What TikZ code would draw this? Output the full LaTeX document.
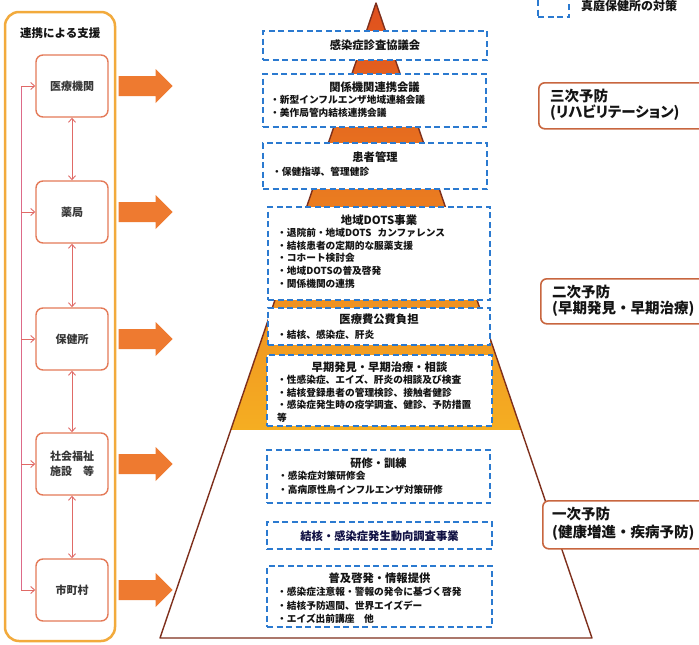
\documentclass[tikz,border=0pt]{standalone}
\usepackage{fontspec}
\setmainfont{Noto Sans CJK JP}
\newfontfamily\proportionaljp{Noto Sans CJK JP}[RawFeature=+palt]
\usetikzlibrary{arrows.meta,calc}
\definecolor{bluedash}{HTML}{2B7AD0}
\definecolor{pyrline}{HTML}{7E2F1C}
\definecolor{pyrtop}{HTML}{E0501E}
\definecolor{pyrmid}{HTML}{EC8424}
\definecolor{pyrbot}{HTML}{F5AE22}
\definecolor{arrorange}{HTML}{EE7A30}
\definecolor{framecol}{HTML}{F2AA3C}
\definecolor{mboxcol}{HTML}{E47A58}
\definecolor{linkcol}{HTML}{E06A66}
\definecolor{buscol}{HTML}{DD6A88}
\definecolor{lvlcol}{HTML}{C8663F}
\definecolor{txt}{HTML}{141414}
\begin{document}
\begin{tikzpicture}[x=1pt,y=-1pt,
  bbox/.style={draw=bluedash,line width=1.5pt,dash pattern=on 6pt off 3.5pt,fill=white,inner sep=0pt},
  ttl/.style={font=\fontsize{11.3}{13}\selectfont\bfseries,text=txt,inner sep=0pt},
  blt/.style={font=\fontsize{9.7}{12}\selectfont\bfseries,text=txt,inner sep=0pt,anchor=west},
  mbox/.style={draw=mboxcol,line width=1.4pt,rounded corners=7pt,fill=white,minimum width=72pt,minimum height=62pt,inner sep=0pt,align=center,font=\fontsize{11}{15}\selectfont\bfseries,text=txt!85},
  link/.style={draw=linkcol,line width=0.9pt,{Straight Barb[length=4pt,width=7pt]}-{Straight Barb[length=4pt,width=7pt]}},
  busline/.style={draw=buscol,line width=0.9pt},
  busarr/.style={draw=linkcol,line width=0.9pt,-{Straight Barb[length=4pt,width=7pt]}},
  bigarr/.style={fill=arrorange},
  panel/.style={draw=framecol,line width=2.5pt,rounded corners=14pt,inner sep=0pt,minimum width=110pt,minimum height=629pt},
  lvl/.style={draw=lvlcol,line width=1.6pt,rounded corners=6pt,fill=white,inner sep=0pt,anchor=north west},
  lvltxt/.style={font=\fontsize{14.5}{17}\selectfont\bfseries,text=txt,inner sep=0pt,anchor=west},
]
\clip (0,0) rectangle (699,645);
\fill[white] (0,0) rectangle (699,645);

% ---------- left panel ----------
\node[panel] (panel) at (60,326.5) {};
\node[font=\fontsize{11.5}{13}\selectfont\bfseries,text=txt,inner sep=0pt,anchor=west] (ptitle) at (20,33) {連携による支援};
\node[mbox] (m1) at (72,86) {医療機関};
\node[mbox] (m2) at (72,212) {薬局};
\node[mbox] (m3) at (72,339) {保健所};
\node[mbox] (m4) at (72,464) {社会福祉\\施設　等};
\node[mbox] (m5) at (72,590) {市町村};
\draw[link] (m1.south) -- (m2.north);
\draw[link] (m2.south) -- (m3.north);
\draw[link] (m3.south) -- (m4.north);
\draw[link] (m4.south) -- (m5.north);
\coordinate (bus) at (21,0);
\draw[busline] (bus|-m1.west) -- (bus|-m5.west);
\foreach \m in {m1,m2,m3,m4,m5}{
  \draw[busarr] (bus|-\m.west) -- (\m.west);
  \fill[bigarr] ($(\m.east)+(10,-10)$) -- ++(37,0) -- ++(0,-7) -- ++(17,17) -- ++(-17,17) -- ++(0,-7) -- ++(-37,0) -- cycle;
}

% ---------- pyramid ----------
\coordinate (apex) at (376,3);
\coordinate (bl) at (160,638);
\coordinate (br) at (592,638);
\shade[top color=pyrtop, middle color=pyrmid, bottom color=pyrbot]
  (apex) -- ($(apex)!0.6724!(bl)$) -- ($(apex)!0.6724!(br)$) -- cycle;
\draw[draw=pyrline,line width=1.4pt,line join=round] (apex) -- (bl) -- (br) -- cycle;

% ---------- measures (dashed blue boxes) ----------
\node[bbox,minimum width=224pt,minimum height=29pt] (b1) at (375,45.5) {};
\node[ttl] (t1) at (375,45.5) {感染症診査協議会};

\node[bbox,minimum width=223pt,minimum height=53pt] (b2) at (374.5,100.5) {};
\node[ttl] (t2) at (374.5,87) {関係機関連携会議};
\node[blt] (t2a) at (270,100) {・新型インフルエンザ地域連絡会議};
\node[blt] (t2b) at (270,113) {・美作局管内結核連携会議};

\node[bbox,minimum width=224pt,minimum height=46pt] (b3) at (375,166) {};
\node[ttl] (t3) at (375,157) {患者管理};
\node[blt] (t3a) at (272,172) {・保健指導、管理健診};

\node[bbox,minimum width=222pt,minimum height=93pt] (b4) at (379,253.5) {};
\node[ttl] (t4) at (379,220) {地域DOTS事業};
\node[blt] (t4a) at (277,233) {・退院前・地域DOTS\hspace{6pt}カンファレンス};
\node[blt] (t4b) at (277,245.5) {・結核患者の定期的な服薬支援};
\node[blt] (t4c) at (277,258) {・コホート検討会};
\node[blt] (t4d) at (277,271) {・地域DOTSの普及啓発};
\node[blt] (t4e) at (277,284) {・関係機関の連携};

\node[bbox,minimum width=222pt,minimum height=37pt] (b5) at (379,326.5) {};
\node[ttl] (t5) at (379,319) {医療費公費負担};
\node[blt] (t5a) at (277,335) {・結核、感染症、肝炎};

\node[bbox,minimum width=225pt,minimum height=71pt] (b6) at (379.5,390.5) {};
\node[ttl] (t6) at (379.5,367) {早期発見・早期治療・相談};
\node[blt] (t6a) at (277,380) {・性感染症、エイズ、肝炎の相談及び検査};
\node[blt] (t6b) at (277,392.5) {・結核登録患者の管理検診、接触者健診};
\node[blt] (t6c) at (277,405) {・感染症発生時の疫学調査、健診、予防措置};
\node[blt] (t6d) at (277,417.5) {等};

\node[bbox,minimum width=223pt,minimum height=53pt] (b7) at (378.5,476.5) {};
\node[ttl] (t7) at (378.5,463) {研修・訓練};
\node[blt] (t7a) at (278,476) {・感染症対策研修会};
\node[blt] (t7b) at (278,490) {・高病原性鳥インフルエンザ対策研修};

\node[bbox,minimum width=225pt,minimum height=27pt] (b8) at (379.5,535.5) {};
\node[ttl,text=txt!80!blue] (t8) at (379.5,536) {結核・感染症発生動向調査事業};

\node[bbox,minimum width=225pt,minimum height=61pt] (b9) at (379.5,596.5) {};
\node[ttl] (t9) at (379.5,578) {普及啓発・情報提供};
\node[blt] (t9a) at (277,592) {・感染症注意報・警報の発令に基づく啓発};
\node[blt] (t9b) at (277,606) {・結核予防週間、世界エイズデー};
\node[blt] (t9c) at (277,619) {・エイズ出前講座　他};

% ---------- prevention levels ----------
\node[lvl,minimum width=182pt,minimum height=46pt] (L3) at (538,82) {};
\node[lvltxt] (L3a) at (550,96) {三次予防};
\node[lvltxt] (L3b) at (550,113) {\proportionaljp (リハビリテーション)};

\node[lvl,minimum width=180pt,minimum height=45pt] (L2) at (540,278) {};
\node[lvltxt] (L2a) at (552,292) {二次予防};
\node[lvltxt] (L2b) at (552,309) {(早期発見・早期治療)};

\node[lvl,minimum width=180pt,minimum height=48pt] (L1) at (542,500) {};
\node[lvltxt] (L1a) at (552,514) {一次予防};
\node[lvltxt] (L1b) at (552,533) {(健康増進・疾病予防)};

% ---------- legend ----------
\node[bbox,minimum width=31pt,minimum height=25pt] (leg) at (553.5,4.5) {};
\node[font=\fontsize{12}{13}\selectfont\bfseries,text=txt,inner sep=0pt,anchor=west] (legt) at (581,6) {真庭保健所の対策};
\end{tikzpicture}
\end{document}
